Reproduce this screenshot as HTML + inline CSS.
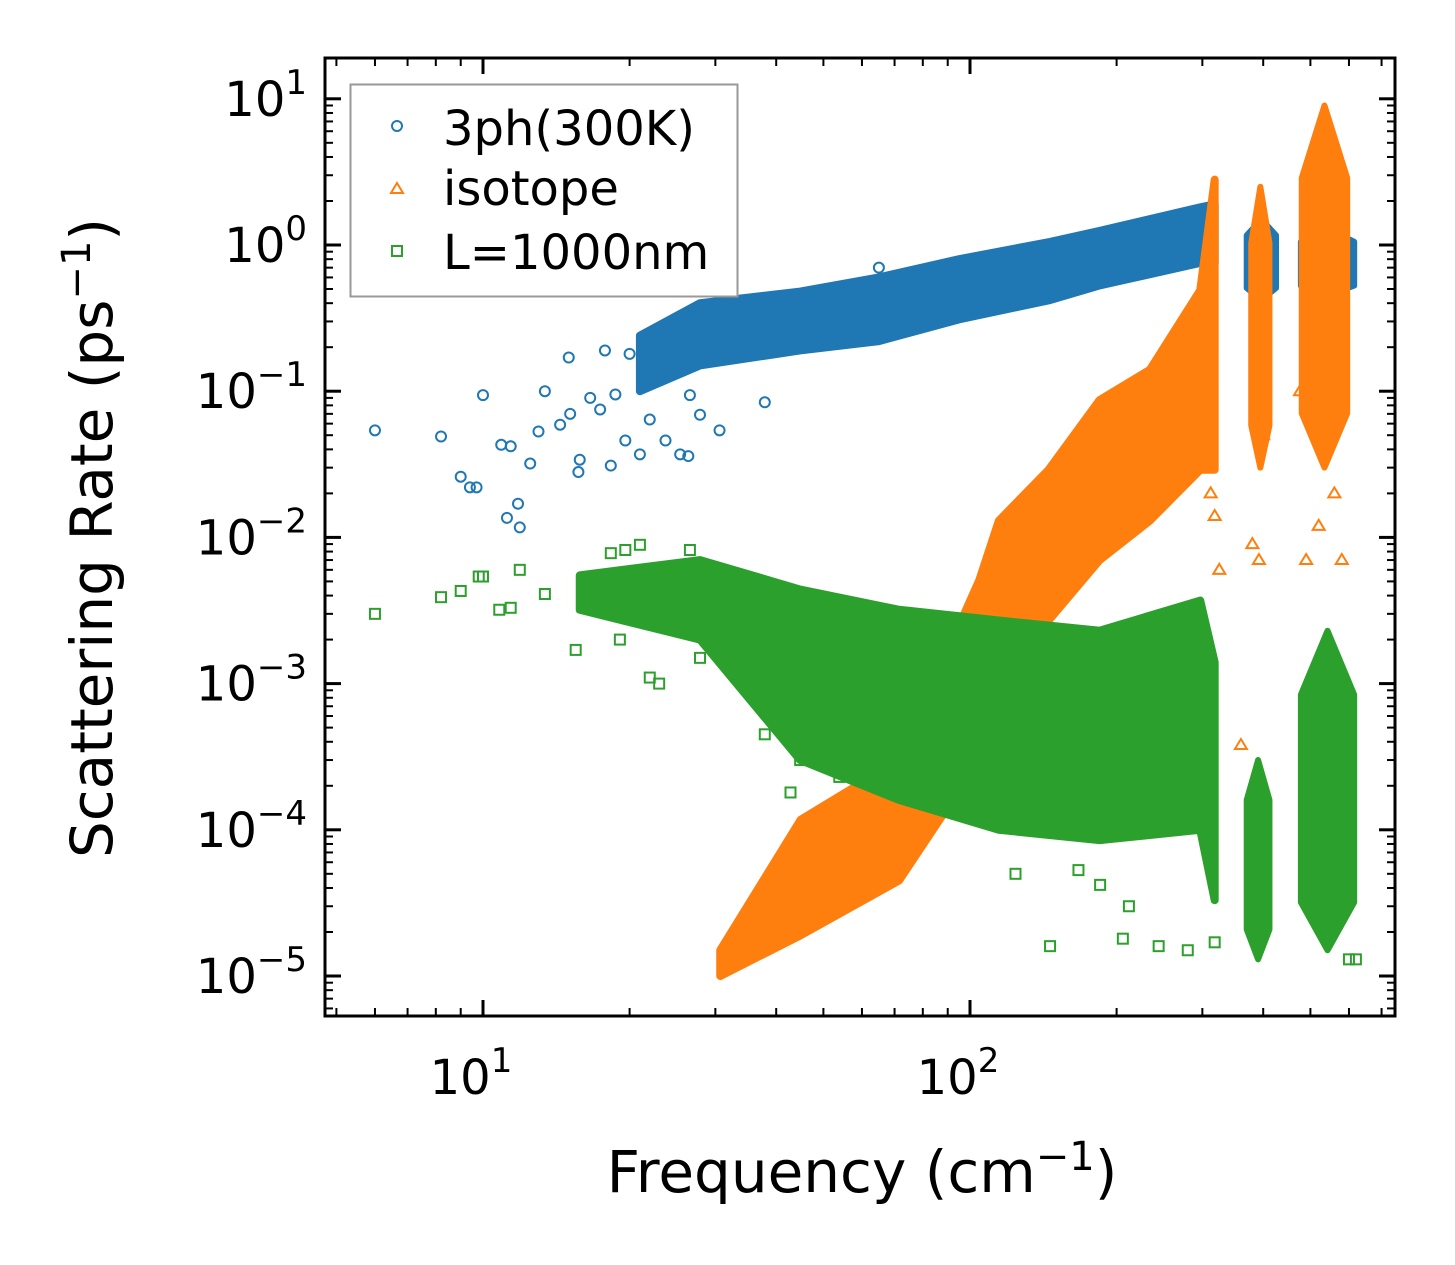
<!DOCTYPE html>
<html><head><meta charset="utf-8">
<style>
html,body{margin:0;padding:0;background:#fff;}
svg{display:block;font-family:"DejaVu Sans","Liberation Sans",sans-serif;}
</style></head>
<body>
<svg id="chart" width="1455" height="1265" viewBox="0 0 1455 1265" xmlns="http://www.w3.org/2000/svg">
<rect width="1455" height="1265" fill="#fff"/>
<g id="marks"></g>
<g id="axes"></g>
<text x="862" y="1192" font-size="58" text-anchor="middle">Frequency (cm<tspan dy="-22" font-size="40">−1</tspan><tspan dy="22">)</tspan></text>
<text transform="translate(112,538) rotate(-90)" font-size="58" text-anchor="middle">Scattering Rate (ps<tspan dy="-22" font-size="40">−1</tspan><tspan dy="22">)</tspan></text>
<g>
<rect x="350.5" y="84.5" width="387" height="212" fill="#fff" stroke="#999" stroke-width="2"/>
<g>
<circle cx="397" cy="126" r="5" fill="none" stroke="#1f77b4" stroke-width="2"/>
<text x="443" y="145" font-size="48">3ph(300K)</text></g>
<g>
<polygon points="397,183 403,193 391,193" fill="none" stroke="#ff7f0e" stroke-width="2"/>
<text x="443" y="205" font-size="48">isotope</text></g>
<g>
<rect x="392" y="246" width="10" height="10" fill="none" stroke="#2ca02c" stroke-width="2"/>
<text x="443" y="269" font-size="48">L=1000nm</text></g>
</g>
</svg>
<script>
// ---- data (frequency cm^-1, rate ps^-1) ----
const blueScatF=[6.0,8.2,9.0,9.4,9.7,10,10.9,11.4,11.2,11.9,11.8,12.5,13.0,13.4,14.4,15.0,15.1,15.7,15.8,16.6,17.4,17.8,18.3,18.7,19.6,20.0,21,22.0,23.7,25.4,26.4,26.6,27.9,30.6,37.9,65];
const blueScatR=[0.054,0.049,0.026,0.022,0.022,0.094,0.043,0.042,0.0136,0.0117,0.017,0.032,0.053,0.10,0.059,0.17,0.07,0.028,0.034,0.09,0.075,0.19,0.031,0.095,0.046,0.18,0.037,0.064,0.046,0.037,0.036,0.094,0.069,0.054,0.084,0.70];
const blueBandF=[21,27.9,44.8,65,95,146,185,295,318];
const blueBandHi=[0.24,0.40,0.48,0.60,0.80,1.05,1.25,1.8,1.9];
const blueBandLo=[0.10,0.15,0.19,0.22,0.31,0.42,0.53,0.75,0.75];
const blueClusterF=[[370,425],[478,615]];
const blueClusterR=[[0.42,1.5],[0.45,1.3]];

const orangeBandF=[30.7,44.9,71.5,104.5,114.6,145,184.6,234,297,318];
const orangeBandHi=[1.5e-5,1.17e-4,3e-4,5.1e-3,0.013,0.029,0.087,0.14,0.49,2.8];
const orangeBandLo=[1e-5,1.9e-5,4.5e-5,3e-4,1.05e-3,2.7e-3,7e-3,0.013,0.029,0.029];
const orangeClusterF=[[378,412],[480,595]];
const orangeClusterR=[[0.03,2.5],[0.03,9.0]];
const orangeScatF=[318,325,312,380,392,400,476,490,520,560,580,360];
const orangeScatR=[0.014,0.006,0.02,0.009,0.007,0.05,0.1,0.007,0.012,0.02,0.007,3.8e-4];

const greenBandF=[15.8,27.9,44.8,71.5,114.6,184.6,297,318];
const greenBandHi=[5.5e-3,7e-3,4.4e-3,3.2e-3,2.7e-3,2.3e-3,3.7e-3,1.4e-3];
const greenBandLo=[3.2e-3,2e-3,3e-4,1.6e-4,1e-4,8.5e-5,1e-4,3.3e-5];
const greenClusterF=[[370,412],[478,615]];
const greenClusterR=[[1.3e-5,3e-4],[1.5e-5,2.3e-3]];
const greenScatF=[6,8.2,9,9.8,10,10.8,11.4,11.9,13.4,15.5,18.3,19.6,21,19.1,22,23,26.6,27.9,33.7,37.9,44.8,42.8,53.9,65,95,124,146,167,212,244,280,185,206,318,600,620];
const greenScatR=[0.003,0.0039,0.0043,0.0054,0.0054,0.0032,0.0033,0.006,0.0041,0.0017,0.0078,0.0082,0.0089,0.002,0.0011,0.001,0.0082,0.0015,0.0023,0.00045,0.0003,0.00018,0.00023,0.00026,0.00023,5e-5,1.6e-5,5.3e-5,3e-5,1.6e-5,1.5e-5,4.2e-5,1.8e-5,1.7e-5,1.3e-5,1.3e-5];

const xTickVals=[10,100];
const xTickLabels=["1","2"];
const yTickVals=[10,1,0.1,0.01,0.001,1e-4,1e-5];
const yTickLabels=["1","0","−1","−2","−3","−4","−5"];

// ---- axes ----
const L=325,R=1395,T=58,B=1016;
const X=f=>483+(Math.log10(f)-1)*487;
const Y=r=>245-Math.log10(r)*146.2;
const NS="http://www.w3.org/2000/svg";
const marks=document.getElementById('marks');
const axes=document.getElementById('axes');
function mk(tag,attrs,parent){const e=document.createElementNS(NS,tag);for(const k in attrs)e.setAttribute(k,attrs[k]);parent.appendChild(e);return e;}

function band(F,Hi,Lo,color,name){
  const pts=F.map((f,i)=>X(f)+','+Y(Hi[i])).concat(F.slice().reverse().map((f,i)=>X(f)+','+Y(Lo[F.length-1-i])));
  const p=mk('polygon',{points:pts.join(' '),fill:color,stroke:color,'stroke-width':8,'stroke-linejoin':'round'},marks);
  
  
}
function cluster(Fs,Rs,color,name){
  Fs.forEach((fr,i)=>{
    const r=Rs[i];
    const x1=X(fr[0]),x2=X(fr[1]),y1=Y(r[1]),y2=Y(r[0]),xm=(x1+x2)/2,h=y2-y1;
    const pts=[[xm,y1],[x2,y1+h*0.2],[x2,y2-h*0.15],[xm,y2],[x1,y2-h*0.15],[x1,y1+h*0.2]].map(p=>p.join(',')).join(' ');
    const e=mk('polygon',{points:pts,fill:color,stroke:color,'stroke-width':6,'stroke-linejoin':'round'},marks);
    
    
  });
}
function scatter(F,Rv,color,shape,name){
  F.forEach((f,i)=>{
    const x=X(f),y=Y(Rv[i]);let e;
    if(shape==='c')e=mk('circle',{cx:x,cy:y,r:5,fill:'none',stroke:color,'stroke-width':2},marks);
    else if(shape==='t')e=mk('polygon',{points:`${x},${y-6} ${x+6},${y+4} ${x-6},${y+4}`,fill:'none',stroke:color,'stroke-width':2},marks);
    else e=mk('rect',{x:x-5,y:y-5,width:10,height:10,fill:'none',stroke:color,'stroke-width':2},marks);
    
    
  });
}
band(blueBandF,blueBandHi,blueBandLo,'#1f77b4','blue-3ph-band');
cluster(blueClusterF,blueClusterR,'#1f77b4','blue-3ph-cluster');
scatter(blueScatF,blueScatR,'#1f77b4','c','blue-3ph-point');
band(orangeBandF,orangeBandHi,orangeBandLo,'#ff7f0e','orange-isotope-band');
cluster(orangeClusterF,orangeClusterR,'#ff7f0e','orange-isotope-cluster');
scatter(orangeScatF,orangeScatR,'#ff7f0e','t','orange-isotope-point');
band(greenBandF,greenBandHi,greenBandLo,'#2ca02c','green-boundary-band');
cluster(greenClusterF,greenClusterR,'#2ca02c','green-boundary-cluster');
scatter(greenScatF,greenScatR,'#2ca02c','s','green-boundary-point');

// frame
const fr=mk('rect',{x:L,y:T,width:R-L,height:B-T,fill:'none',stroke:'#000','stroke-width':3},axes);


for(let d=0;d<=3;d++){for(let m=1;m<10;m++){const f=m*Math.pow(10,d);const x=X(f);if(x<L||x>R)continue;const len=m===1?16:8;
  mk('line',{x1:x,x2:x,y1:B,y2:B-len,stroke:'#000','stroke-width':m===1?3:2},axes);
  mk('line',{x1:x,x2:x,y1:T,y2:T+len,stroke:'#000','stroke-width':m===1?3:2},axes);}}
for(let d=-6;d<=1;d++){for(let m=1;m<10;m++){const r=m*Math.pow(10,d);const y=Y(r);if(y<T||y>B)continue;const len=m===1?16:8;
  mk('line',{x1:L,x2:L+len,y1:y,y2:y,stroke:'#000','stroke-width':m===1?3:2},axes);
  mk('line',{x1:R,x2:R-len,y1:y,y2:y,stroke:'#000','stroke-width':m===1?3:2},axes);}}
xTickVals.forEach((v,i)=>{
  const t=mk('text',{x:X(v)-12,y:1094,'font-size':48,'text-anchor':'middle'},axes);
  
  
  t.innerHTML='10<tspan dy="-22" font-size="34">'+xTickLabels[i]+'</tspan>';
});
yTickVals.forEach((v,i)=>{
  const t=mk('text',{x:307,y:Y(v)+17,'font-size':48,'text-anchor':'end'},axes);
  
  
  t.innerHTML='10<tspan dy="-22" font-size="34">'+yTickLabels[i]+'</tspan>';
});
</script>
</body></html>
